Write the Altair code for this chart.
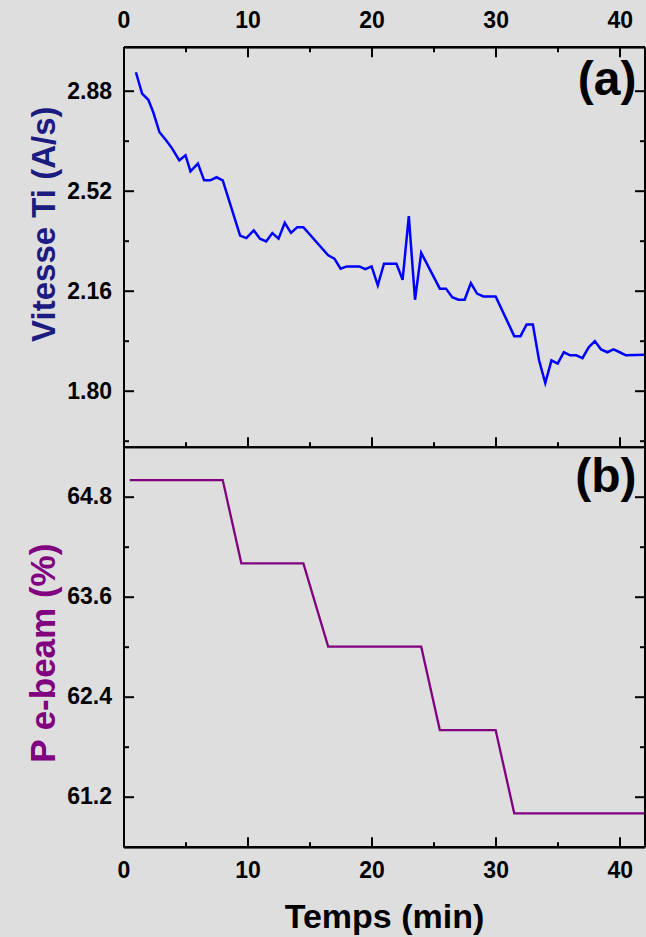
import altair as alt
import pandas as pd

# ---------------- data ----------------
time_a = [1.0, 1.5, 2.0, 2.4, 2.9, 3.4, 3.9, 4.5, 5.0, 5.4, 6.0, 6.5, 7.0, 7.5, 8.0,
          9.4, 9.9, 10.5, 11.0, 11.5, 12.0, 12.5, 13.0, 13.5, 14.0, 14.5,
          16.5, 17.0, 17.5, 18.0, 19.0, 19.5, 20.0, 20.5, 21.0, 22.0, 22.5, 23.0,
          23.5, 24.0, 25.5, 26.0, 26.5, 27.0, 27.5, 28.0, 28.5, 29.0, 30.0,
          31.5, 32.0, 32.5, 33.0, 33.5, 34.0, 34.5, 35.0, 35.5, 36.0, 36.5,
          37.0, 37.5, 38.0, 38.5, 39.0, 39.5, 40.0, 40.5, 42.0]
rate_a = [2.948, 2.871, 2.849, 2.804, 2.732, 2.705, 2.675, 2.631, 2.649, 2.591, 2.619,
          2.559, 2.559, 2.570, 2.559,
          2.360, 2.351, 2.379, 2.349, 2.339, 2.369, 2.349, 2.406, 2.370, 2.390, 2.390,
          2.289, 2.277, 2.241, 2.249, 2.249, 2.239, 2.249, 2.181, 2.259, 2.259, 2.201,
          2.430, 2.129, 2.298, 2.169, 2.169, 2.138, 2.129, 2.129, 2.189, 2.151, 2.141,
          2.141, 1.998, 1.998, 2.040, 2.040, 1.911, 1.829, 1.911, 1.899, 1.940, 1.929,
          1.929, 1.919, 1.958, 1.980, 1.950, 1.940, 1.950, 1.940, 1.929, 1.931]

time_b = [0.5, 8.0, 9.5, 14.5, 16.5, 24.0, 25.5, 30.0, 31.5, 42.0]
power_b = [65.0, 65.0, 64.0, 64.0, 63.0, 63.0, 62.0, 62.0, 61.0, 61.0]

x_major = [0, 10, 20, 30, 40]
x_minor = [5, 15, 25, 35]
ya_major = [1.80, 2.16, 2.52, 2.88]
ya_minor = [1.62, 1.98, 2.34, 2.70]
yb_major = [61.2, 62.4, 63.6, 64.8]
yb_minor = [61.8, 63.0, 64.2]
panel_labels = ["(a)", "(b)"]
title_x = "Temps (min)"
title_ya = "Vitesse Ti (A/s)"
title_yb = "P e-beam (%)"

# ---------------- layout / style ----------------
W, H = 521, 400
FONT = "Liberation Sans"
XDOM = [0, 42]
YA_DOM = [1.6, 3.04]
YB_DOM = [60.6, 65.4]

df_a = pd.DataFrame({"t": time_a, "v": rate_a})
df_b = pd.DataFrame({"t": time_b, "v": power_b})

common = dict(domainColor="black", domainWidth=2, tickColor="black", tickWidth=2,
              grid=False, labelFont=FONT, labelFontWeight="bold", labelFontSize=23,
              labelColor="black", labelFlush=False, labelOverlap=False, zindex=1)


def tick_axis(orient, offset, values, size):
    return alt.Axis(orient=orient, offset=offset, values=values, tickSize=size,
                    labels=False, title=None, **common)


def xenc(axis):
    return alt.X("t:Q", scale=alt.Scale(domain=XDOM, nice=False, zero=False), axis=axis)


def yenc(dom, rng, axis):
    return alt.Y("v:Q", scale=alt.Scale(domain=dom, range=rng, nice=False, zero=False),
                 axis=axis)


def line(df, color, width, visible, xaxis, yaxis, dom, rng):
    return alt.Chart(df).mark_line(color=color, strokeWidth=width,
                                   opacity=1 if visible else 0).encode(
        x=xenc(xaxis), y=yenc(dom, rng, yaxis))


RA = [H, 0]
RB = [2 * H, H]

# x label axes
x_top_labels = alt.Axis(orient="top", values=x_major, ticks=False, labelPadding=14,
                        title=None, format="d", **common)
x_bot_labels = alt.Axis(orient="bottom", values=x_major, ticks=False, labelPadding=13,
                        format="d", title=title_x, titleFont=FONT, titleFontSize=34,
                        titleFontWeight="bold", titleColor="black",
                        titleBaseline="alphabetic", titleY=81, **common)

ya_labels = alt.Axis(orient="left", values=ya_major, ticks=False, labelPadding=12,
                     format=".2f", title=title_ya, titleFont=FONT, titleFontSize=33,
                     titleFontWeight="bold", titleColor="#1b1b80",
                     titleBaseline="alphabetic", titleX=-69, titleY=177, **common)
yb_labels = alt.Axis(orient="left", values=yb_major, ticks=False, labelPadding=12,
                     format=".1f", title=title_yb, titleFont=FONT, titleFontSize=35,
                     titleFontWeight="bold", titleColor="#800080",
                     titleBaseline="alphabetic", titleX=-69, titleY=606, **common)

BLUE, PURPLE = "#0000ff", "#800080"

layers = [
    # panel (a)
    line(df_a, BLUE, 2.5, True, x_top_labels, ya_labels, YA_DOM, RA),
    line(df_a, BLUE, 2.5, False, tick_axis("bottom", -2 * H, x_major, 10),
         tick_axis("right", -W, ya_major, 10), YA_DOM, RA),
    line(df_a, BLUE, 2.5, False, tick_axis("bottom", -2 * H, x_minor, 5),
         tick_axis("right", -W, ya_minor, 5), YA_DOM, RA),
    line(df_a, BLUE, 2.5, False, tick_axis("top", -H, x_major, 10),
         tick_axis("left", -W, ya_major, 10), YA_DOM, RA),
    line(df_a, BLUE, 2.5, False, tick_axis("top", -H, x_minor, 5),
         tick_axis("left", -W, ya_minor, 5), YA_DOM, RA),
    # panel (b)
    line(df_b, PURPLE, 2.3, True, x_bot_labels, yb_labels, YB_DOM, RB),
    line(df_b, PURPLE, 2.3, False, tick_axis("top", -2 * H, x_major, 10),
         tick_axis("right", -W, yb_major, 10), YB_DOM, RB),
    line(df_b, PURPLE, 2.3, False, tick_axis("top", -2 * H, x_minor, 5),
         tick_axis("right", -W, yb_minor, 5), YB_DOM, RB),
    line(df_b, PURPLE, 2.3, False, None,
         tick_axis("left", -W, yb_major, 10), YB_DOM, RB),
    line(df_b, PURPLE, 2.3, False, None,
         tick_axis("left", -W, yb_minor, 5), YB_DOM, RB),
]

for lab, ypix in zip(panel_labels, [48, 445]):
    layers.append(
        alt.Chart(pd.DataFrame({"label": [lab]})).mark_text(
            font=FONT, fontSize=48, fontWeight="bold", align="right",
            baseline="alphabetic", color="black").encode(
            text="label:N", x=alt.value(513), y=alt.value(ypix)))

chart = alt.layer(*layers).resolve_scale(
    x="independent", y="independent").resolve_axis(
    x="independent", y="independent").properties(
    width=W, height=2 * H,
    padding={"left": 123.5, "top": 46.7, "right": 1.5, "bottom": 90.3},
    autosize=alt.AutoSizeParams(type="none"),
    background="#dedede",
).configure_view(stroke=None)

chart.save("out.html", embed_options={"renderer": "svg", "actions": False})
